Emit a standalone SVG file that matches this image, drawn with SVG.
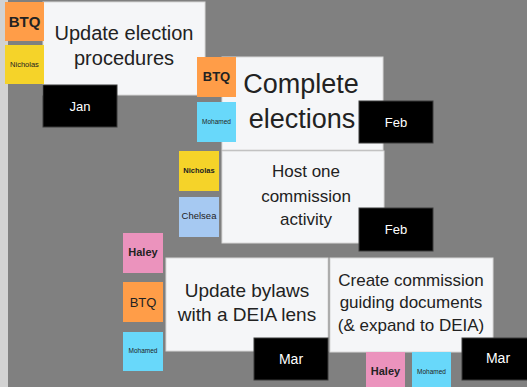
<svg xmlns="http://www.w3.org/2000/svg" width="527" height="387" viewBox="0 0 527 387">
<style>
.card{fill:#f5f6f8;stroke:#d8d8d8;stroke-width:1}
.tag{fill:#000;stroke:#3a3a3a;stroke-width:1}
.tt{fill:#fff;font-family:"Liberation Sans",Arial,sans-serif;text-anchor:middle}
.ct{fill:#222;font-family:"Liberation Sans",Arial,sans-serif;text-anchor:middle}
.st{fill:#222;font-family:"Liberation Sans",Arial,sans-serif;text-anchor:middle}
.orange{fill:#ff9d48}
.yellow{fill:#f5d329}
.blue{fill:#68d8fa}
.lblue{fill:#a6c9f2}
.pink{fill:#eb93bd}
</style>
<rect width="527" height="387" fill="#808080"/>
<rect x="0" y="0" width="8" height="387" fill="#d2d2d2"/>

<g id="card1">
<rect class="card" x="43" y="2" width="162" height="93"/>
<text class="ct" font-size="20" x="124" y="40">Update election</text>
<text class="ct" font-size="20" x="124" y="65">procedures</text>
<rect class="orange" x="5" y="2" width="39" height="39"/>
<text class="st" font-size="15" font-weight="bold" x="24.5" y="27">BTQ</text>
<rect class="yellow" x="5" y="45" width="39" height="39"/>
<text class="st" font-size="7.5" x="24.5" y="67">Nicholas</text>
<rect class="tag" x="43" y="85" width="74" height="42"/>
<text class="tt" font-size="13" x="80" y="111">Jan</text>
</g>

<g id="card2">
<rect class="card" x="222" y="57" width="161" height="93"/>
<text class="ct" font-size="27" x="301" y="93">Complete</text>
<text class="ct" font-size="27" x="302" y="128">elections</text>
<rect class="orange" x="197" y="57" width="39" height="40"/>
<text class="st" font-size="13" font-weight="bold" x="216.5" y="81">BTQ</text>
<rect class="blue" x="197" y="102" width="39" height="40"/>
<text class="st" font-size="6.5" x="216.5" y="124">Mohamed</text>
<rect class="tag" x="359" y="101" width="74" height="42"/>
<text class="tt" font-size="13" x="396" y="127">Feb</text>
</g>

<g id="card3">
<rect class="card" x="222" y="151" width="162" height="92"/>
<text class="ct" font-size="17" x="306" y="177">Host one</text>
<text class="ct" font-size="17" x="306" y="202">commission</text>
<text class="ct" font-size="17" x="306" y="225">activity</text>
<rect class="yellow" x="179" y="151" width="40" height="40"/>
<text class="st" font-size="7.5" font-weight="bold" x="199" y="173">Nicholas</text>
<rect class="lblue" x="179" y="197" width="40" height="40"/>
<text class="st" font-size="9.5" x="199" y="219">Chelsea</text>
<rect class="tag" x="359" y="208" width="74" height="43"/>
<text class="tt" font-size="13" x="396" y="234">Feb</text>
</g>

<g id="card4">
<rect class="card" x="166" y="258" width="162" height="93"/>
<text class="ct" font-size="19" x="247" y="297">Update bylaws</text>
<text class="ct" font-size="19" x="247" y="321">with a DEIA lens</text>
<rect class="pink" x="123" y="233" width="40" height="40"/>
<text class="st" font-size="11" font-weight="bold" x="143" y="256">Haley</text>
<rect class="orange" x="123" y="282" width="40" height="40"/>
<text class="st" font-size="13" x="143" y="307">BTQ</text>
<rect class="blue" x="123" y="332" width="40" height="39"/>
<text class="st" font-size="6.5" x="143" y="353">Mohamed</text>
<rect class="tag" x="254" y="338" width="74" height="42"/>
<text class="tt" font-size="14" x="291" y="364">Mar</text>
</g>

<g id="card5">
<rect class="card" x="330" y="258" width="163" height="94"/>
<text class="ct" font-size="17" x="411" y="286">Create commission</text>
<text class="ct" font-size="17" x="411" y="308">guiding documents</text>
<text class="ct" font-size="17" x="411" y="331">(&amp; expand to DEIA)</text>
<rect class="pink" x="366" y="352" width="39" height="40"/>
<text class="st" font-size="11" font-weight="bold" x="385.5" y="375">Haley</text>
<rect class="blue" x="412" y="352" width="39" height="40"/>
<text class="st" font-size="6.5" x="431.5" y="374">Mohamed</text>
<rect class="tag" x="462" y="338" width="70" height="42"/>
<text class="tt" font-size="14" x="498" y="363">Mar</text>
</g>

<g id="connectors"></g>
</svg>
